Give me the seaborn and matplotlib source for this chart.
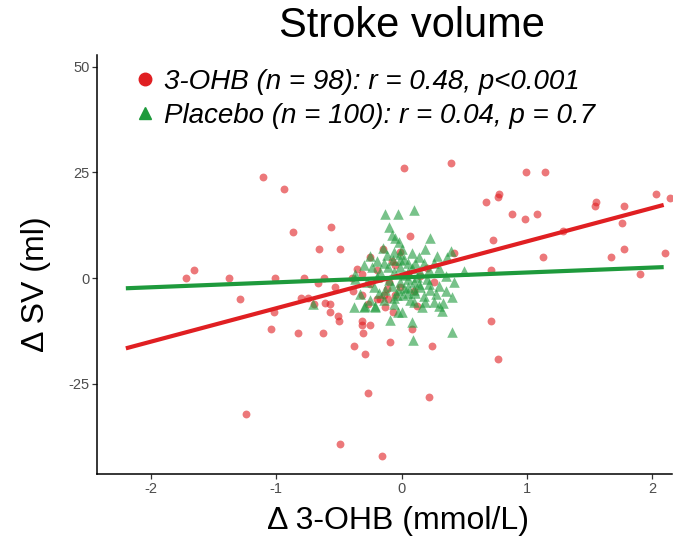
import matplotlib
matplotlib.use("Agg")
import matplotlib.pyplot as plt
import seaborn as sns
import numpy as np
import pandas as pd
from matplotlib.lines import Line2D

# 3-OHB group: change in 3-OHB (mmol/L) vs change in SV (ml)
ohb_x = [-1.11, -0.94, 0.02, 0.39, 0.99, 1.14, 0.67, 0.77, 0.78, 0.88,
         0.98, 1.08, 0.73, 1.29, 1.54, 1.55, 1.77, 1.76, 2.03, 2.14,
         1.13, 1.67, 1.77, 2.10, 0.71, 1.90, 0.71, 0.77, -0.87, -1.72,
         -1.66, -1.38, -1.01, -1.29, -0.56, -0.66, -0.49, 0.07, -0.15, -0.25,
         -0.01, 0.42, -0.78, -0.62, -0.36, -0.32, -0.67, -0.53, -0.39, -0.32,
         -0.14, -0.01, 0.26, -0.80, -0.75, -0.70, -0.61, -0.57, -0.57, -0.51,
         -0.50, -0.83, -0.63, -0.27, -0.32, -0.32, -0.25, -0.31, -0.38, -0.29,
         -0.09, 0.08, 0.24, -0.27, 0.22, -0.49, -0.16, -0.13, -0.07, -0.20,
         -0.17, -0.11, -0.05, -1.02, -1.04, -1.24, -0.40, -0.10, 0.05, -0.20,
         0.10, -0.05, 0.15, -0.25, 0.20, -0.12, 0.12, -0.08]
ohb_y = [24.0, 21.0, 26.0, 27.1, 25.1, 25.1, 17.9, 19.1, 20.0, 15.1,
         14.0, 15.1, 9.1, 11.1, 17.0, 18.0, 17.0, 13.0, 20.0, 19.0,
         5.0, 5.0, 7.0, 6.0, 2.0, 1.0, -10.1, -19.1, 11.0, 0.0,
         2.0, 0.0, 0.0, -5.0, 12.1, 7.0, 7.0, 10.0, 7.0, 5.1,
         6.1, 6.0, 0.1, 0.1, 2.1, 0.9, -1.1, -2.0, -3.0, -4.0,
         -4.0, -2.0, -0.8, -4.8, -4.8, -6.0, -5.9, -6.0, -8.0, -9.0,
         -10.1, -13.0, -13.0, -6.0, -10.1, -11.0, -11.0, -13.0, -16.0, -18.0,
         -15.0, -12.1, -16.0, -27.1, -28.1, -39.1, -42.1, -6.9, -8.0, -4.9,
         -4.9, -5.0, -4.0, -8.0, -12.0, -32.1, 0.1, -1.0, 1.0, 2.0,
         -3.0, 3.0, 0.5, -1.5, 2.5, -2.5, -6.5, 4.0]

# Placebo group
pla_x = [-0.13, -0.03, 0.10, -0.10, -0.08, -0.05, -0.02, 0.23, 0.19, -0.15,
         -0.25, -0.06, -0.01, 0.28, 0.39, 0.36, 0.50, 0.40, 0.30, -0.37,
         -0.37, -0.07, -0.01, 0.05, 0.11, 0.18, 0.26, -0.01, -0.11, -0.17,
         -0.06, 0.05, 0.15, -0.20, -0.10, -0.01, 0.10, -0.22, -0.13, -0.03,
         0.05, 0.15, -0.25, -0.14, -0.06, 0.01, -0.38, -0.29, -0.21, 0.10,
         0.19, 0.02, 0.14, 0.22, 0.02, 0.10, 0.23, 0.07, 0.26, 0.30,
         0.05, -0.71, -0.03, 0.32, -0.09, 0.08, 0.09, 0.40, -0.06, 0.05,
         0.11, -0.30, -0.20, -0.12, 0.00, 0.08, 0.14, 0.22, 0.30, 0.35,
         0.42, -0.28, -0.18, -0.08, 0.03, 0.12, 0.20, 0.27, 0.35, -0.33,
         -0.24, -0.14, 0.08, 0.18, -0.04, 0.16, -0.30, -0.21, 0.33, 0.00]
pla_y = [15.2, 15.2, 16.2, 12.1, 10.1, 9.5, 8.5, 9.4, 6.8, 7.1,
         5.2, 6.2, 5.8, 5.3, 6.3, 5.1, 1.6, -4.5, -1.8, 1.0,
         -0.1, 4.4, 4.4, 3.5, 3.5, 3.5, 3.5, 2.7, 2.7, 1.5,
         1.5, 1.5, 1.5, 0.2, -0.5, -0.9, -0.9, -2.2, -2.8, -2.8,
         -2.2, -2.2, -5.2, -5.2, -6.0, -4.0, -6.9, -6.7, -6.5, -5.6,
         -5.6, 4.6, -1.3, -1.3, -2.4, -2.8, -2.8, -5.2, -5.6, -6.7,
         -0.1, -6.0, -8.0, -7.7, -9.8, -10.3, -14.7, -12.8, -4.8, -3.6,
         -3.6, 3.0, 4.0, 5.5, 7.0, 6.0, 5.0, 2.0, 2.5, 0.5,
         -1.0, -1.0, -3.5, -1.8, 0.8, 0.3, -0.2, -3.8, -3.0, -3.8,
         2.6, 3.6, 2.4, -4.2, -4.0, -6.8, -6.8, -6.8, -5.8, -8.0]

# regression lines (endpoints)
trend_x = [-2.2, 2.09]
trend_ohb = [-16.6, 17.3]
trend_pla = [-2.4, 2.6]

groups = ["3-OHB", "Placebo"]
legend_labels = ["3-OHB (n = 98): r = 0.48, p<0.001",
                 "Placebo (n = 100): r = 0.04, p = 0.7"]
palette = {"3-OHB": "#E01F22", "Placebo": "#1E9A3C"}
markers = {"3-OHB": "o", "Placebo": "^"}

df = pd.DataFrame({
    "x": ohb_x + pla_x,
    "y": ohb_y + pla_y,
    "group": ["3-OHB"] * len(ohb_x) + ["Placebo"] * len(pla_x),
})

sns.set_style("ticks")
plt.rcParams["font.family"] = ["Liberation Sans", "DejaVu Sans"]
plt.rcParams["axes.unicode_minus"] = False
plt.rcParams["text.color"] = "black"
plt.rcParams["axes.labelcolor"] = "black"

fig = plt.figure(figsize=(6.77, 5.37), dpi=100)
ax = fig.add_axes([0.1433, 0.1173, 0.850, 0.780])

sns.scatterplot(data=df[df.group == "3-OHB"], x="x", y="y", color=palette["3-OHB"],
                marker="o", s=32, alpha=0.6, linewidth=0, ax=ax, legend=False)
sns.scatterplot(data=df[df.group == "Placebo"], x="x", y="y", color=palette["Placebo"],
                marker="^", s=58, alpha=0.6, linewidth=0, ax=ax, legend=False)

ax.plot(trend_x, trend_ohb, color=palette["3-OHB"], lw=3.0, solid_capstyle="butt")
ax.plot(trend_x, trend_pla, color=palette["Placebo"], lw=3.0, solid_capstyle="butt")

ax.set_xlim(-2.43, 2.16)
ax.set_ylim(-46.3, 52.7)
ax.set_xticks([-2, -1, 0, 1, 2])
ax.set_yticks([-25, 0, 25, 50])
ax.tick_params(axis="both", length=3.5, width=0.9, color="#333333",
               labelsize=10.5, labelcolor="#4D4D4D", pad=2)
sns.despine(ax=ax)
for sp in ["left", "bottom"]:
    ax.spines[sp].set_linewidth(1.1)
    ax.spines[sp].set_color("black")

ax.set_xlabel("Δ 3-OHB (mmol/L)", fontsize=23)
ax.set_ylabel("Δ SV (ml)", fontsize=23)
ax.xaxis.set_label_coords(0.523, -0.112)
ax.yaxis.set_label_coords(-0.106, 0.453)
ax.xaxis.label.set_va("center")
ax.yaxis.label.set_va("center")

fig.text(0.609, 0.952, "Stroke volume", fontsize=30, ha="center", va="center")

handles = [Line2D([], [], marker=markers[g], color=palette[g], linestyle="none",
                  markersize=9) for g in groups]
ax.legend(handles, legend_labels, loc="upper left", bbox_to_anchor=(0.035, 0.994),
          frameon=False, prop={"style": "italic", "size": 20},
          handletextpad=0.1, labelspacing=0.3, handlelength=1.2, borderaxespad=0)

fig.savefig("out.png", dpi=100)
